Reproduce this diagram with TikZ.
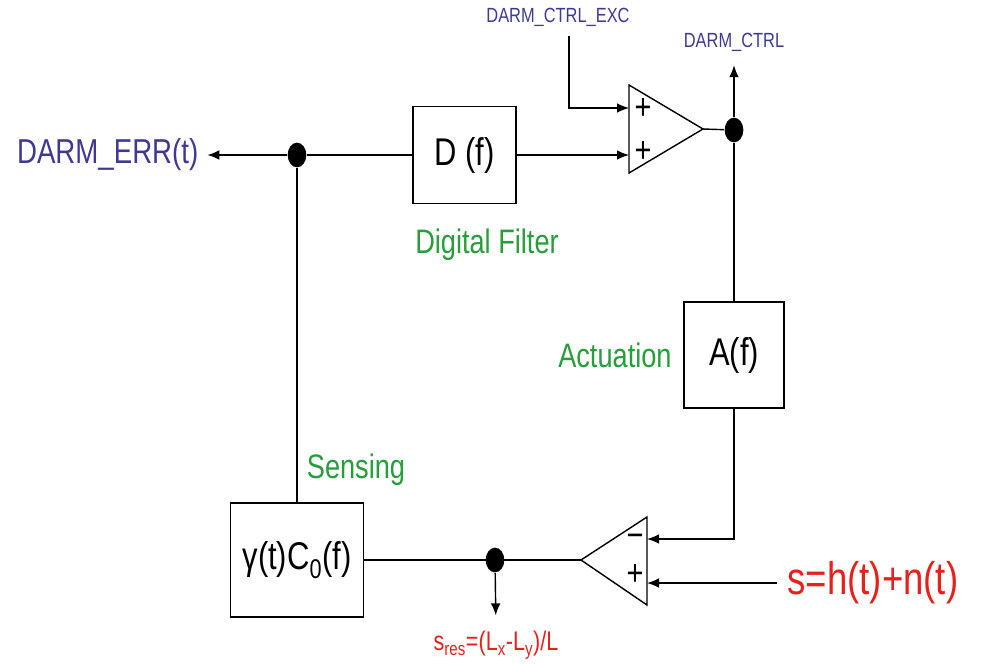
\documentclass[tikz,border=0pt]{standalone}
\usepackage{fontspec}
\setmainfont{Liberation Sans}[FakeStretch=0.8]
\usetikzlibrary{positioning, arrows.meta, shapes.geometric}
\definecolor{darmblue}{RGB}{62,58,148}
\definecolor{labgreen}{RGB}{38,158,58}
\definecolor{sigred}{RGB}{232,32,28}

\begin{document}
\begin{tikzpicture}[x=0.03cm, y=-0.03cm, line width=1.2pt, >={Latex[length=3.6mm, width=2.9mm]},
  blk/.style={draw, inner sep=0pt, font=\fontsize{33}{35}\selectfont},
  jn/.style={ellipse, fill=black, minimum width=0.56cm, minimum height=0.74cm, inner sep=0pt},
  chan/.style={text=darmblue, inner sep=0pt},
  grn/.style={text=labgreen, inner sep=0pt, font=\fontsize{29}{31}\selectfont},
  sgn/.style={inner sep=0pt, font=\fontsize{31}{32}\selectfont},
  redtxt/.style={text=sigred, inner sep=0pt}]
  \useasboundingbox (0,0) rectangle (983,663);
  % upper path: error point, filter, excitation sum
  \node[chan, font=\fontsize{29.5}{32}\selectfont, anchor=east] (err) at (199,155) {DARM\_ERR(t)};
  \node[jn] (j1) at (297,155) {};
  \node[blk, minimum width=3.09cm, minimum height=2.91cm] (D) at (464.5,155) {D (f)};
  \node[grn] (filt) at (487,245) {Digital Filter};
  \coordinate (s1a) at (629,85); \coordinate (s1b) at (629,173); \coordinate (s1o) at (703,129);
  \coordinate (s1p) at (629,108); \coordinate (s1q) at (629,155);
  \draw (s1a) -- (s1o) -- (s1b) -- cycle;
  \node[sgn] at (643,109) {+}; \node[sgn] at (643,152) {+};
  \node[chan, font=\fontsize{17.5}{18}\selectfont] (exc) at (558,17) {DARM\_CTRL\_EXC};
  \node[jn] (j2) at (734,130) {};
  \node[chan, font=\fontsize{17.5}{18}\selectfont] (ctrl) at (734,42) {DARM\_CTRL};
  \draw[->, shorten >=0.25cm] (j1) -- (err.east);
  \draw (j1) -- (D);
  \draw[->] (D) -- (s1q);
  \draw[->] ([xshift=0.33cm, yshift=-0.27cm]exc.south) |- (s1p);
  \draw (s1o) -- (j2);
  \draw[->] (j2) -- ([yshift=-0.4cm]ctrl.south);
  % actuation and differential arm sum
  \node[blk, minimum width=3cm, minimum height=3.18cm] (A) at (734,355) {A(f)};
  \node[grn, left=0.33cm of A] (act) {Actuation};
  \draw (j2) -- (A);
  \coordinate (s2a) at (647,517); \coordinate (s2b) at (647,605); \coordinate (s2o) at (581,560);
  \coordinate (s2m) at (647,539); \coordinate (s2p) at (647,583);
  \draw (s2a) -- (s2o) -- (s2b) -- cycle;
  \node[sgn] at (635,541) {−}; \node[sgn] at (635,575) {+};
  \node[redtxt, inner xsep=0.3cm, font=\fontsize{39}{41}\selectfont] (sig) at (873,583) {s=h(t)+n(t)};
  \draw[->] (A) |- (s2m);
  \draw[->] (sig) -- (s2p);
  % sensing
  \node[blk, minimum width=3.99cm, minimum height=3.42cm] (C) at (297,560) {γ(t)C\textsubscript{0}(f)};
  \node[grn] (sens) at (356,470) {Sensing};
  \node[jn] (j3) at (495,560) {};
  \node[redtxt, font=\fontsize{23}{24}\selectfont] (sres) at (496,645) {s\textsubscript{res}=(L\textsubscript{x}-L\textsubscript{y})/L};
  \draw (s2o) -- (C);
  \draw[->, shorten >=0.45cm] (j3) -- (sres.north);
  \draw (C) -- (j1);
\end{tikzpicture}
\end{document}
